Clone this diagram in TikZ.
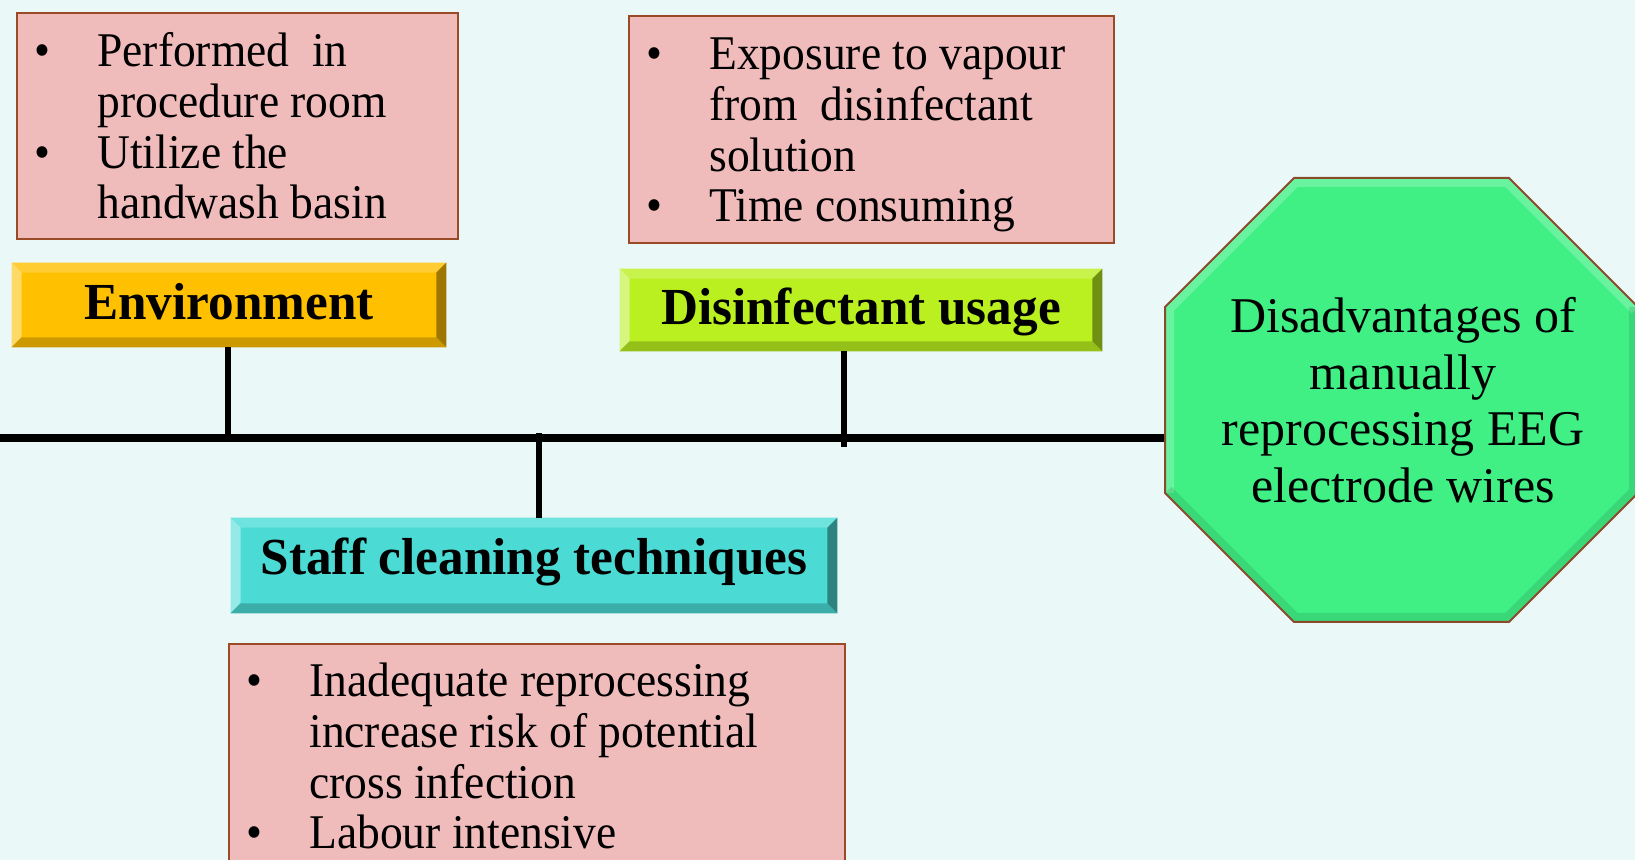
\documentclass[tikz,border=0pt]{standalone}
\usepackage{fontspec}
\setmainfont{Liberation Serif}
\newfontfamily\bodyfam[FakeStretch=0.94]{Liberation Serif}
\newfontfamily\btnfam[FakeStretch=0.985]{Liberation Serif}
\usetikzlibrary{calc}
\definecolor{bg}{HTML}{EBF8F8}
\definecolor{boxfill}{HTML}{F0BBBB}
\definecolor{boxedge}{HTML}{9A4A25}
\definecolor{envmain}{HTML}{FFC000}
\definecolor{envtop}{HTML}{FFCD33}
\definecolor{envleft}{HTML}{FFD966}
\definecolor{envbot}{HTML}{CC9A00}
\definecolor{envright}{HTML}{9E7700}
\definecolor{dismain}{HTML}{BAF01F}
\definecolor{distop}{HTML}{C8F34C}
\definecolor{disleft}{HTML}{D6F67F}
\definecolor{disbot}{HTML}{95C019}
\definecolor{disright}{HTML}{6F9013}
\definecolor{stfmain}{HTML}{4BDAD4}
\definecolor{stftop}{HTML}{6FE3DD}
\definecolor{stfleft}{HTML}{93EAE6}
\definecolor{stfbot}{HTML}{3CAEAA}
\definecolor{stfright}{HTML}{2D837F}
\definecolor{octfill}{HTML}{40F085}
\definecolor{octedge}{HTML}{8B4A2B}
\newcommand\btnfont{\btnfam\fontsize{26}{30}\selectfont\bfseries}
\newcommand\bodyfont{\bodyfam\fontsize{24.2}{25.3}\selectfont}
\newcommand\octfont{\fontsize{25}{28.2}\selectfont}
\newcommand\bul{\makebox[31.25pt][l]{\textbullet}}
\newcommand\bevel[5]{%
  \fill[#2] (#1.north west) -- (#1.north east) -- ($(#1.north east)+(-10,10)$) -- ($(#1.north west)+(10,10)$) -- cycle;
  \fill[#3] (#1.north west) -- ($(#1.north west)+(10,10)$) -- ($(#1.south west)+(10,-10)$) -- (#1.south west) -- cycle;
  \fill[#4] (#1.south west) -- ($(#1.south west)+(10,-10)$) -- ($(#1.south east)+(-10,-10)$) -- (#1.south east) -- cycle;
  \fill[#5] (#1.north east) -- ($(#1.north east)+(-10,10)$) -- ($(#1.south east)+(-10,-10)$) -- (#1.south east) -- cycle;
}
\begin{document}
\begin{tikzpicture}[x=0.5pt,y=-0.5pt,
  tbox/.style={draw=boxedge, fill=boxfill, line width=0.8pt, anchor=north west, inner sep=0},
  btn/.style={inner sep=0, font=\btnfont, text depth=0pt},
  bodytxt/.style={anchor=base west, inner sep=0, font=\bodyfont},
  spine/.style={line width=3.6pt, black},
  stem/.style={line width=3.4pt, black}]
\fill[bg] (0,0) rectangle (1635,860);
\useasboundingbox (0,0) rectangle (1635,860);

% spine
\coordinate (spineL) at (0,438);
\coordinate (spineR) at (1166,438);
\draw[spine] (spineL) -- (spineR);

% text boxes
\node[tbox, minimum width=220.5pt, minimum height=113pt] (envbox) at (16,12) {};
\node[tbox, minimum width=242.5pt, minimum height=113.5pt] (disbox) at (628,15) {};
\node[tbox, minimum width=308pt, minimum height=118.5pt] (stfbox) at (228,643) {};

\node[bodytxt] (envtxt) at (34.5,67) {\begin{tabular}[t]{@{}l@{}l@{}}\bul & Performed\ \ in\\ & procedure room\\ \bul & Utilize the\\ & handwash basin\end{tabular}};
\node[bodytxt] (distxt) at (646.5,70) {\begin{tabular}[t]{@{}l@{}l@{}}\bul & Exposure to vapour\\ & from\ \ disinfectant\\ & solution\\ \bul & Time consuming\end{tabular}};
\node[bodytxt] (stftxt) at (246.5,697) {\begin{tabular}[t]{@{}l@{}l@{}}\bul & Inadequate reprocessing\\ & increase risk of potential\\ & cross infection\\ \bul & Labour intensive\end{tabular}};

% buttons
\node[btn, fill=envmain, minimum width=217pt, minimum height=42pt, text height=15pt] (envbtn) at (229,305) {Environment};
\bevel{envbtn}{envtop}{envleft}{envbot}{envright}
\node[btn, fill=dismain, minimum width=241pt, minimum height=41pt, text height=15pt] (disbtn) at (861,310) {Disinfectant usage};
\bevel{disbtn}{distop}{disleft}{disbot}{disright}
\node[btn, fill=stfmain, minimum width=303pt, minimum height=47.5pt, text height=9.5pt] (stfbtn) at (534,565.5) {Staff cleaning techniques};
\bevel{stfbtn}{stftop}{stfleft}{stfbot}{stfright}

% stems
\coordinate (jEnv) at (228,441);
\coordinate (jStf) at (539,433);
\coordinate (jDis) at (844,447);
\draw[stem] (envbtn.south -| jEnv) -- (jEnv);
\draw[stem] (stfbtn.north -| jStf) -- (jStf);
\draw[stem] (disbtn.south -| jDis) -- (jDis);

% octagon
\coordinate (o1) at (1294,178);
\coordinate (o2) at (1509,178);
\coordinate (o3) at (1638,307);
\coordinate (o4) at (1638,493);
\coordinate (o5) at (1509,622);
\coordinate (o6) at (1294,622);
\coordinate (o7) at (1165,493);
\coordinate (o8) at (1165,307);
\fill[octfill] (o1) -- (o2) -- (o3) -- (o4) -- (o5) -- (o6) -- (o7) -- (o8) -- cycle;
\begin{scope}
  \clip (o1) -- (o2) -- (o3) -- (o4) -- (o5) -- (o6) -- (o7) -- (o8) -- cycle;
  \draw[white, opacity=0.22, line width=9pt] (o7) -- (o8) -- (o1) -- (o2) -- (o3);
  \draw[black, opacity=0.10, line width=9pt] (o3) -- (o4) -- (o5) -- (o6) -- (o7);
\end{scope}
\draw[octedge, line width=1pt] (o1) -- (o2) -- (o3) -- (o4) -- (o5) -- (o6) -- (o7) -- (o8) -- cycle;
\node[anchor=base, inner sep=0, font=\octfont] (goal) at (1403,333) {\begin{tabular}[t]{@{}c@{}}Disadvantages of\\ manually\\ reprocessing EEG\\ electrode wires\end{tabular}};
\end{tikzpicture}
\end{document}
